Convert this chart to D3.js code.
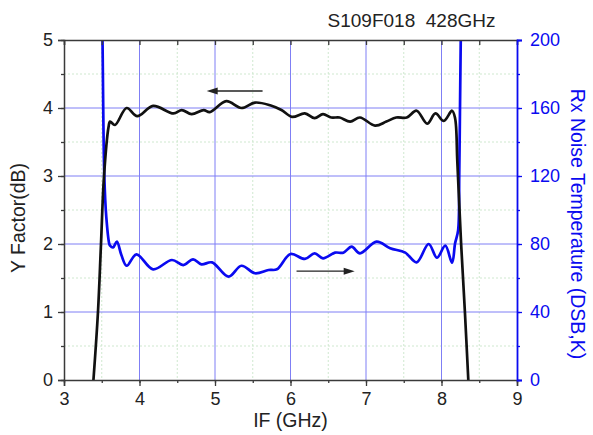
<!DOCTYPE html>
<html>
<head>
<meta charset="utf-8">
<script src="https://cdn.jsdelivr.net/npm/d3@7"></script>
<style>
  html, body { margin: 0; padding: 0; background: #fff; }
  svg { display: block; font-family: "Liberation Sans", Arial, sans-serif; }
</style>
</head>
<body>
<svg id="chart" width="593" height="435"></svg>
<script>
// IF frequency (GHz) vs Y factor (dB), left axis
const yFactorIF = [3.39, 3.45, 3.49, 3.53, 3.59, 3.61, 3.675, 3.83, 3.97, 4.18, 4.45, 4.56, 4.69, 4.85, 4.93, 5.15, 5.35, 5.53, 5.73, 5.88, 6.02, 6.19, 6.32, 6.43, 6.54, 6.65, 6.79, 6.92, 7.12, 7.27, 7.40, 7.54, 7.67, 7.81, 7.92, 8.03, 8.14, 8.18, 8.21, 8.26, 8.31, 8.355];
const yFactorDB = [0, 1, 2, 3, 3.72, 3.80, 3.75, 4.00, 3.88, 4.03, 3.92, 3.97, 3.91, 3.97, 3.94, 4.10, 4.00, 4.08, 4.04, 3.97, 3.87, 3.92, 3.85, 3.91, 3.86, 3.86, 3.80, 3.86, 3.74, 3.80, 3.86, 3.86, 3.96, 3.77, 3.92, 3.81, 3.96, 3.85, 3.2, 2, 1, 0];

// IF frequency (GHz) vs receiver noise temperature (DSB, K), right axis
const trxIF = [3.49, 3.51, 3.534, 3.56, 3.60, 3.61, 3.65, 3.70, 3.76, 3.83, 3.96, 4.18, 4.43, 4.58, 4.71, 4.82, 4.96, 5.18, 5.35, 5.53, 5.71, 5.82, 6.00, 6.19, 6.32, 6.43, 6.59, 6.70, 6.81, 6.92, 7.14, 7.32, 7.52, 7.67, 7.83, 7.94, 8.05, 8.14, 8.18, 8.22, 8.235, 8.245, 8.255, 8.27];
const trxK = [260, 200, 120, 96, 80, 79, 78, 81.4, 73.5, 67.2, 73.9, 65.1, 70.6, 67.6, 71.0, 68.0, 69.2, 60.8, 67.2, 62.8, 64.7, 65.1, 74.1, 71.2, 74.5, 71.6, 74.9, 74.9, 78.4, 74.5, 81.4, 77.5, 74.9, 69.2, 80.0, 71.9, 79.0, 69.0, 80.4, 88, 120, 160, 200, 260];

// Axis ticks
const xTicks = [3, 4, 5, 6, 7, 8, 9];
const yTicks = [0, 1, 2, 3, 4, 5];
const tTicks = [0, 40, 80, 120, 160, 200];

// Direction arrows: [x start, x end, level]
const arrowYFactor = [5.63, 4.89, 4.25];   // points to left axis
const arrowTrx = [6.08, 6.85, 1.60];       // points to right axis

const title = "S109F018\u00a0\u00a0428GHz";

const svg = d3.select("#chart");
const L = 64, T = 40, W = 453, H = 340;

const x = d3.scaleLinear().domain([3, 9]).range([L, L + W]);
const y = d3.scaleLinear().domain([0, 5]).range([T + H, T]);
const yT = d3.scaleLinear().domain([0, 200]).range([T + H, T]);

const majorBlue = "#7f7ff5";
const minorGreen = "#cfe8cf";
const axisGray = "#3a3a3a";
const curveBlue = "#0a0af0";

// minor grid
const halfX = d3.range(3.5, 9, 1);
const halfY = d3.range(0.5, 5, 1);
const g = svg.append("g");
g.selectAll(".mgx").data(halfX).join("line")
  .attr("x1", d => x(d)).attr("x2", d => x(d)).attr("y1", T).attr("y2", T + H)
  .attr("stroke", minorGreen).attr("stroke-width", 1).attr("stroke-dasharray", "2,2");
g.selectAll(".mgy").data(halfY).join("line")
  .attr("y1", d => y(d)).attr("y2", d => y(d)).attr("x1", L).attr("x2", L + W)
  .attr("stroke", minorGreen).attr("stroke-width", 1).attr("stroke-dasharray", "2,2");
// major grid
g.selectAll(".gx").data(xTicks.slice(1, -1)).join("line")
  .attr("x1", d => x(d)).attr("x2", d => x(d)).attr("y1", T).attr("y2", T + H)
  .attr("stroke", majorBlue).attr("stroke-width", 1);
g.selectAll(".gy").data(yTicks.slice(1, -1)).join("line")
  .attr("y1", d => y(d)).attr("y2", d => y(d)).attr("x1", L).attr("x2", L + W)
  .attr("stroke", majorBlue).attr("stroke-width", 1);

// clip for curves
svg.append("clipPath").attr("id", "plotClip").append("rect")
  .attr("x", L).attr("y", T).attr("width", W).attr("height", H + 1);

const lineY = d3.line().x(d => x(d[0])).y(d => y(d[1])).curve(d3.curveCatmullRom.alpha(0.5));
const lineT = d3.line().x(d => x(d[0])).y(d => yT(d[1])).curve(d3.curveCatmullRom.alpha(0.5));

const curves = svg.append("g").attr("clip-path", "url(#plotClip)");
curves.append("path").datum(trxIF.map((v, i) => [v, trxK[i]]))
  .attr("d", lineT).attr("fill", "none").attr("stroke", curveBlue)
  .attr("stroke-width", 2.7).attr("stroke-linejoin", "round");
curves.append("path").datum(yFactorIF.map((v, i) => [v, yFactorDB[i]]))
  .attr("d", lineY).attr("fill", "none").attr("stroke", "#111")
  .attr("stroke-width", 2.7).attr("stroke-linejoin", "round");

// axes
const tickFont = 18, titleFont = 19.5;
const minorX = d3.range(3, 9.01, 0.5);
const minorY = d3.range(0, 5.01, 0.5);

const bottomMin = svg.append("g").attr("transform", `translate(0,${T + H})`)
  .call(d3.axisBottom(x).tickValues(minorX).tickSize(3).tickFormat(""));
bottomMin.call(g2 => g2.select(".domain").remove());
bottomMin.selectAll("line").attr("stroke", axisGray).attr("stroke-width", 1.3);
const bottomMaj = svg.append("g").attr("transform", `translate(0,${T + H})`)
  .call(d3.axisBottom(x).tickValues(xTicks).tickSize(6).tickPadding(6).tickFormat(d3.format("d")));
bottomMaj.select(".domain").attr("stroke", axisGray).attr("stroke-width", 1.5);
bottomMaj.selectAll("line").attr("stroke", axisGray).attr("stroke-width", 1.3);
bottomMaj.selectAll("text").attr("font-size", tickFont).attr("fill", "#222");

const topAxis = svg.append("g").attr("transform", `translate(0,${T})`)
  .call(d3.axisBottom(x).tickValues(minorX).tickSize(5).tickFormat(""));
topAxis.select(".domain").attr("stroke", axisGray).attr("stroke-width", 1.5);
topAxis.selectAll("line").attr("stroke", axisGray).attr("stroke-width", 1.3);

const leftMin = svg.append("g").attr("transform", `translate(${L},0)`)
  .call(d3.axisLeft(y).tickValues(minorY).tickSize(3).tickFormat(""));
leftMin.call(g2 => g2.select(".domain").remove());
leftMin.selectAll("line").attr("stroke", axisGray).attr("stroke-width", 1.3);
const leftMaj = svg.append("g").attr("transform", `translate(${L},0)`)
  .call(d3.axisLeft(y).tickValues(yTicks).tickSize(6).tickPadding(5).tickFormat(d3.format("d")));
leftMaj.select(".domain").attr("stroke", axisGray).attr("stroke-width", 1.5);
leftMaj.selectAll("line").attr("stroke", axisGray).attr("stroke-width", 1.3);
leftMaj.selectAll("text").attr("font-size", tickFont).attr("fill", "#222");

const minorT = d3.range(0, 200.1, 20);
const rightMin = svg.append("g").attr("transform", `translate(${L + W},0)`)
  .call(d3.axisRight(yT).tickValues(minorT).tickSize(3).tickFormat(""));
rightMin.call(g2 => g2.select(".domain").remove());
rightMin.selectAll("line").attr("stroke", curveBlue).attr("stroke-width", 1.3);
const rightMaj = svg.append("g").attr("transform", `translate(${L + W},0)`)
  .call(d3.axisRight(yT).tickValues(tTicks).tickSize(5).tickPadding(8).tickFormat(d3.format("d")));
rightMaj.select(".domain").attr("stroke", curveBlue).attr("stroke-width", 1.8);
rightMaj.selectAll("line").attr("stroke", curveBlue).attr("stroke-width", 1.3);
rightMaj.selectAll("text").attr("font-size", tickFont).attr("fill", curveBlue);

// arrows
function drawArrow(a, yScale) {
  const x0 = x(a[0]), x1 = x(a[1]), yy = yScale(a[2]);
  const dir = Math.sign(x1 - x0);
  const head = 11, half = 3.5;
  svg.append("line").attr("x1", x0).attr("x2", x1 - dir * head * 0.6)
    .attr("y1", yy).attr("y2", yy).attr("stroke", "#222").attr("stroke-width", 1.3);
  svg.append("path")
    .attr("d", `M${x1},${yy}L${x1 - dir * head},${yy - half}L${x1 - dir * head},${yy + half}Z`)
    .attr("fill", "#222");
}
drawArrow(arrowYFactor, y);
drawArrow(arrowTrx, y);

// titles
svg.append("text").attr("x", 411.5).attr("y", 27).attr("text-anchor", "middle")
  .attr("font-size", 19).attr("fill", "#222").text(title);
svg.append("text").attr("x", x(6)).attr("y", 427).attr("text-anchor", "middle")
  .attr("font-size", titleFont).attr("fill", "#222").text("IF (GHz)");
svg.append("text").attr("transform", `translate(25,218) rotate(-90)`)
  .attr("text-anchor", "middle").attr("font-size", titleFont).attr("fill", "#222")
  .text("Y Factor(dB)");
svg.append("text").attr("transform", `translate(571,224) rotate(90)`)
  .attr("text-anchor", "middle").attr("font-size", titleFont).attr("fill", curveBlue)
  .text("Rx Noise Temperature (DSB,K)");
</script>
</body>
</html>
